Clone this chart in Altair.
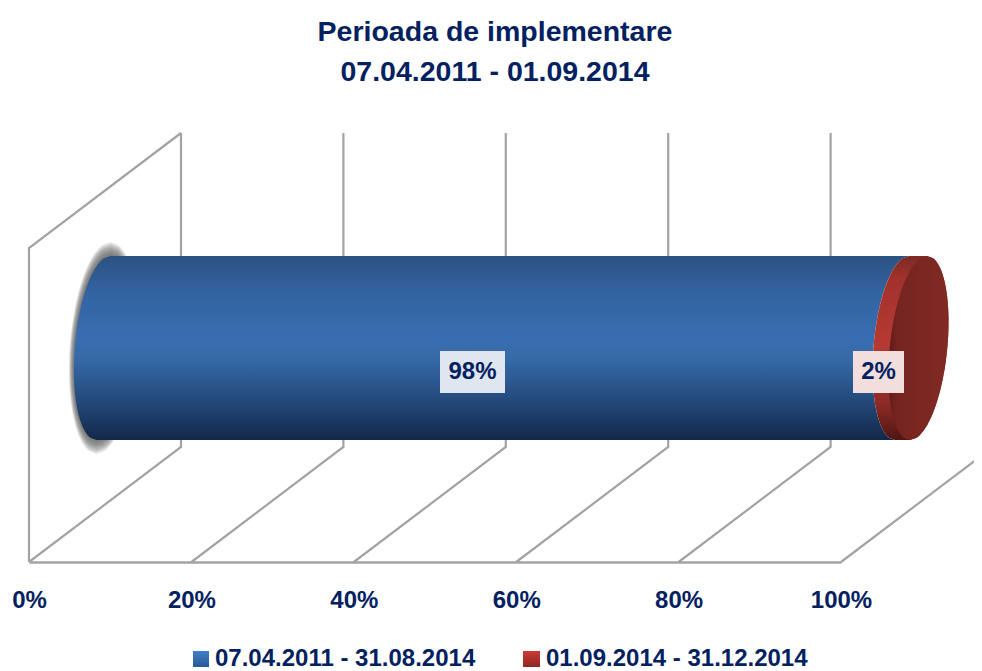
import math
import altair as alt
import pandas as pd

TITLE_LINES = ["Perioada de implementare", "07.04.2011 - 01.09.2014"]
SERIES = ["07.04.2011 - 31.08.2014", "01.09.2014 - 31.12.2014"]
SHARES = [98, 2]
SHARE_LABELS = ["98%", "2%"]
TICKS = [0, 20, 40, 60, 80, 100]

FONT = "Liberation Sans"
NAVY = "#03215f"
GRID = "#a3a3a3"
PX_PER_PCT = 8.12


def X(px):
    return (px - 29) / PX_PER_PCT


def Y(py):
    return 562 - py


axis = alt.Axis(
    values=TICKS, labelExpr="datum.value + '%'", title=None, grid=False, ticks=False,
    domainColor=GRID, domainWidth=2.5, labelFont=FONT, labelFontSize=24,
    labelFontWeight="bold", labelColor=NAVY, labelPadding=26, labelOverlap=False,
    labelFlush=False,
)
xs = alt.Scale(domain=[0, 100], range=[0, 812], nice=False, zero=False, clamp=False)
ys = alt.Scale(domain=[0, 430], range=[430, 0], nice=False, zero=False, clamp=False)
xe = alt.X("x:Q", scale=xs, axis=axis)
ye = alt.Y("y:Q", scale=ys, axis=None)


def grad(stops, vertical=True):
    return alt.Gradient(
        gradient="linear",
        stops=[alt.GradientStop(offset=o, color=c) for o, c in stops],
        x1=0, x2=0 if vertical else 1, y1=0, y2=1 if vertical else 0,
    )


# --- 3D frame -------------------------------------------------------------
DEPTH = 152 / PX_PER_PCT
rows = []
for p in TICKS:
    path = [(p, 0), (p + DEPTH, 115)]
    if p < 100:
        path.append((p + DEPTH, 429))
    for i, (a, b) in enumerate(path):
        rows.append(dict(x=a, y=b, g=f"t{p}", o=i))
for i, (a, b) in enumerate([(0, 0), (0, 314), (DEPTH, 429)]):
    rows.append(dict(x=a, y=b, g="wall", o=i))

frame = alt.Chart(pd.DataFrame(rows)).mark_line(color=GRID, strokeWidth=2.2).encode(
    x=xe, y=ye, detail="g:N", order="o:Q"
)

# --- cylinder -------------------------------------------------------------
CY, RY, RX, SKEW = 348, 92, 28.8, 7.0
LEFT0, SPAN = 103.5, 8.15


def cx(pct):
    return LEFT0 + SPAN * pct


def edge(center, s, side, rx=RX, skew=SKEW):
    return center - skew * s + side * rx * math.sqrt(max(0, 1 - s * s))


N = 80
steps = [-1 + 2 * i / N for i in range(N + 1)]
split = SHARES[0]
total = SHARES[0] + SHARES[1]

body = pd.DataFrame([
    dict(y=Y(CY + RY * s), x=X(edge(cx(0), s, -1)), x2=X(edge(cx(split), s, -1)))
    for s in steps
])
rim = pd.DataFrame([
    dict(y=Y(CY + RY * s), x=X(edge(cx(split), s, -1)), x2=X(edge(cx(total), s, 1, skew=8.5)))
    for s in steps
])
face = pd.DataFrame([
    dict(y=Y(CY + RY * s), x=X(edge(cx(total), s, -1, skew=8.5)), x2=X(edge(cx(total), s, 1, skew=8.5)))
    for s in steps
])

halo_rows = []
for k in range(10):
    ry = RY + 14 - k * 1.4
    rx = RX + 5 - k * 0.5
    for s in steps:
        halo_rows.append(dict(
            y=Y(CY + ry * s),
            x=X(edge(cx(0), s, -1, rx=rx)),
            x2=X(edge(cx(0), s, 1, rx=rx)),
            k=k,
        ))
halo = alt.Chart(pd.DataFrame(halo_rows)).mark_area(
    orient="horizontal", color="#555555", opacity=0.13
).encode(x=xe, x2="x2:Q", y=ye, detail="k:N")

blue_fill = grad([(0, "#2b5282"), (0.2, "#3363a1"), (0.45, "#386eb1"), (0.55, "#376aa9"),
                  (0.75, "#264f83"), (1, "#13284a")])
red_fill = grad([(0, "#7b2a26"), (0.12, "#a2312b"), (0.48, "#b53a33"), (0.8, "#8e2a25"), (1, "#4e1613")])
face_fill = grad([(0, "#5c1b18"), (0.14, "#75241f"), (1, "#812a24")], vertical=False)

body_l = alt.Chart(body).mark_area(orient="horizontal", fill=blue_fill).encode(x=xe, x2="x2:Q", y=ye)
rim_l = alt.Chart(rim).mark_area(orient="horizontal", fill=red_fill).encode(x=xe, x2="x2:Q", y=ye)
face_l = alt.Chart(face).mark_area(orient="horizontal", fill=face_fill).encode(x=xe, x2="x2:Q", y=ye)

# --- data labels ----------------------------------------------------------
lab = pd.DataFrame({
    "label": SHARE_LABELS,
    "x": [X(440), X(853)],
    "x2": [X(505), X(904)],
    "y": [Y(351), Y(351)],
    "y2": [Y(393), Y(393)],
    "xc": [X(472.5), X(878.5)],
    "yc": [Y(372), Y(372)],
    "bg": ["#dfe6f0", "#f1dedd"],
})
lab_box = alt.Chart(lab).mark_rect().encode(
    x=xe, x2="x2:Q", y=ye, y2="y2:Q", fill=alt.Fill("bg:N", scale=None)
)
lab_text = alt.Chart(lab).mark_text(
    font=FONT, fontSize=24, fontWeight="bold", color=NAVY, align="center", baseline="middle"
).encode(x=alt.X("xc:Q", scale=xs, axis=axis), y=alt.Y("yc:Q", scale=ys, axis=None), text="label:N")

# --- legend ---------------------------------------------------------------
leg = pd.DataFrame({
    "name": SERIES,
    "x": [X(193), X(523)],
    "x2": [X(209), X(540)],
    "y": [Y(651), Y(651)],
    "y2": [Y(667), Y(667)],
    "tx": [X(215), X(546)],
    "ty": [Y(659), Y(659)],
})
swatch_b = alt.Chart(leg.iloc[[0]]).mark_rect(
    fill=grad([(0, "#3f7fca"), (1, "#2b5a94")])
).encode(x=xe, x2="x2:Q", y=ye, y2="y2:Q")
swatch_r = alt.Chart(leg.iloc[[1]]).mark_rect(
    fill=grad([(0, "#cb3b35"), (1, "#8f2622")])
).encode(x=xe, x2="x2:Q", y=ye, y2="y2:Q")
leg_text = alt.Chart(leg).mark_text(
    font=FONT, fontSize=24, fontWeight="bold", color=NAVY, align="left", baseline="middle"
).encode(x=alt.X("tx:Q", scale=xs, axis=axis), y=alt.Y("ty:Q", scale=ys, axis=None), text="name:N")

chart = alt.layer(
    frame, halo, body_l, rim_l, face_l, lab_box, lab_text, swatch_b, swatch_r, leg_text
).properties(
    width=812,
    height=430,
    autosize=alt.AutoSizeParams(type="none"),
    padding={"left": 21, "top": 124, "right": 133, "bottom": 108},
    title=alt.TitleParams(
        text=TITLE_LINES, font=FONT, fontSize=28.5, fontWeight="bold", color=NAVY,
        anchor="middle", dx=60, offset=42, lineHeight=40,
    ),
).configure_view(stroke=None)

chart.save("out.html", embed_options={"renderer": "svg", "actions": False})
